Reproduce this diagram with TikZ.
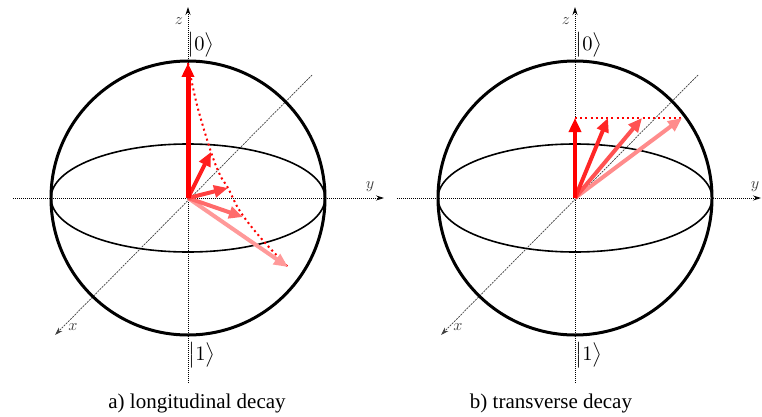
\documentclass[tikz,border=0pt]{standalone}
\usepackage{fontspec}
\setmainfont{Liberation Serif}
\usetikzlibrary{arrows.meta}
\newcommand{\ketlab}[1]{\scalebox{2.05}{$\bigl|#1\bigr\rangle$}}
\newcommand{\axlab}[1]{\scalebox{1.6}{$#1$}}
\tikzset{
  sphere/.style={line width=3pt},
  equator/.style={line width=1.6pt},
  axisdot/.style={line width=0.8pt, dash pattern=on 1pt off 1pt, -{Stealth[length=8pt,width=5pt]}},
  axisdash/.style={line width=0.7pt, black!75, dash pattern=on 2pt off 1pt, -{Stealth[length=8pt,width=5pt]}},
  axlabel/.style={text=black!75, font=\normalsize, inner sep=0pt},
  ket/.style={font=\normalsize, inner sep=0pt},
  caption/.style={font=\fontsize{21}{24}\selectfont},
  vec/.style={line width=4pt, -{Triangle[length=14pt,width=12pt]}},
  traj/.style={red, line width=2pt, dash pattern=on 2pt off 3.2pt}
}
\begin{document}
\begin{tikzpicture}[x=1pt,y=-1pt]
\useasboundingbox (0,0) rectangle (762,417);
% ---------- left panel ----------
\coordinate (oa) at (188,198);
\coordinate (zat) at (188,7);
\coordinate (zab) at (188,383);
\coordinate (yal) at (13,198);
\coordinate (yar) at (384,198);
\coordinate (xau) at (312,75);
\coordinate (xal) at (55,335);
\draw[axisdot] (zab) -- (zat);
\draw[axisdot] (yal) -- (yar);
\draw[axisdash] (xau) -- (xal);
\node[axlabel] (lza) at (179,21) {\axlab{z}};
\node[axlabel] (lya) at (370,187) {\axlab{y}};
\node[axlabel] (lxa) at (73,327) {\axlab{x}};
\draw[sphere] (oa) circle[radius=137pt];
\draw[equator] (oa) ellipse[x radius=137pt, y radius=54pt];
\node[ket] (k0a) at (201,45) {\ketlab{0}};
\node[ket] (k1a) at (202,355) {\ketlab{1}};
\coordinate (a1) at (188,63);
\coordinate (a2) at (211,152);
\coordinate (a3) at (228,188);
\coordinate (a4) at (243,217);
\coordinate (a5) at (288,267);
\draw[traj] plot[smooth, tension=0.6] coordinates {(a1) (197,105) (a2) (220,175) (a3) (238,208) (250,225) (267,245) (a5)};
\draw[vec, red!40] (oa) -- (a5);
\draw[vec, red!58] (oa) -- (a4);
\draw[vec, red!75] (oa) -- (a3);
\draw[vec, red!88] (oa) -- (a2);
\draw[vec, red, line width=5pt] (oa) -- (a1);
\node[caption] (capa) at (197,403) {a) longitudinal decay};
% ---------- right panel ----------
\coordinate (ob) at (575,198);
\coordinate (zbt) at (575,7);
\coordinate (zbb) at (575,383);
\coordinate (ybl) at (397,198);
\coordinate (ybr) at (761,198);
\coordinate (xbu) at (698,75);
\coordinate (xbl) at (441,335);
\draw[axisdot] (zbb) -- (zbt);
\draw[axisdot] (ybl) -- (ybr);
\draw[axisdash] (xbu) -- (xbl);
\node[axlabel] (lzb) at (566,21) {\axlab{z}};
\node[axlabel] (lyb) at (755,187) {\axlab{y}};
\node[axlabel] (lxb) at (458,327) {\axlab{x}};
\draw[sphere] (ob) circle[radius=137pt];
\draw[equator] (ob) ellipse[x radius=137pt, y radius=54pt];
\node[ket] (k0b) at (589,45) {\ketlab{0}};
\node[ket] (k1b) at (589,355) {\ketlab{1}};
\coordinate (b1) at (575,118);
\coordinate (b2) at (608,118);
\coordinate (b3) at (642,118);
\coordinate (b4) at (682,118);
\draw[traj] (b1) -- (b4);
\draw[vec, red!45] (ob) -- (b4);
\draw[vec, red!68] (ob) -- (b3);
\draw[vec, red!85] (ob) -- (b2);
\draw[vec, red] (ob) -- (b1);
\node[caption] (capb) at (551,403) {b) transverse decay};
\end{tikzpicture}
\end{document}
